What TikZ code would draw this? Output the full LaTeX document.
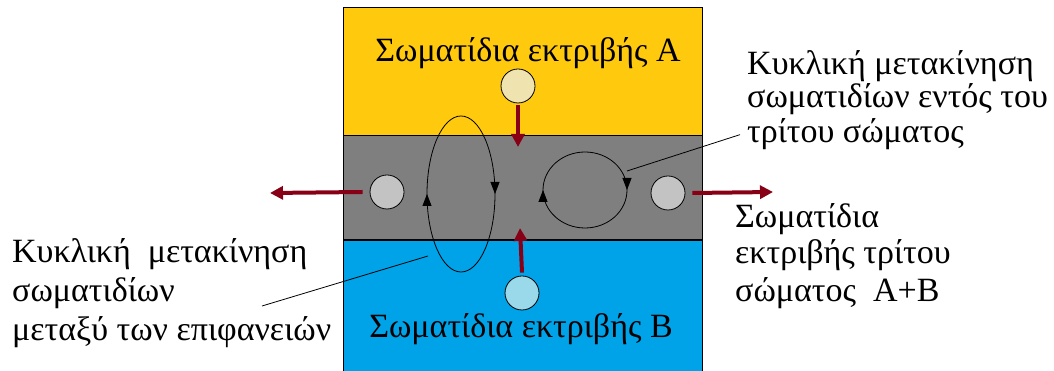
\documentclass[tikz,border=0pt]{standalone}
\usepackage{fontspec}
\setmainfont{Liberation Serif}
\usetikzlibrary{arrows.meta,decorations.markings}
\definecolor{yel}{HTML}{FFC90E}
\definecolor{blu}{HTML}{00A2E8}
\definecolor{gry}{HTML}{7F7F7F}
\definecolor{lgry}{HTML}{C3C3C3}
\definecolor{beige}{HTML}{EFE4B0}
\definecolor{lblu}{HTML}{99D9EA}
\definecolor{dred}{HTML}{880015}
\begin{document}
\begin{tikzpicture}[x=1pt,y=1pt,
  particle/.style={circle,draw=black,line width=0.8pt,minimum size=34pt,inner sep=0pt},
  flow/.style={draw=dred,line width=4pt,-{Triangle[length=13pt,width=13pt]}},
  loopmark/.style={draw=black,line width=0.8pt,postaction={decorate},
    decoration={markings,
      mark=at position 0.25 with {\arrow{Triangle[length=12pt,width=9pt]}},
      mark=at position 0.75 with {\arrow{Triangle[length=12pt,width=9pt]}}}},
  leader/.style={draw=black,line width=0.8pt},
  lbl/.style={font=\fontsize{34}{40}\selectfont,inner sep=0pt,anchor=base west},
  big/.style={font=\fontsize{34}{40}\selectfont,inner sep=0pt,anchor=base}]
\fill[white] (0,0) rectangle (1054,371);
\useasboundingbox (0,0) rectangle (1054,371);
% layers
\fill[yel] (343,235) rectangle (702,363);
\fill[gry] (343,131) rectangle (702,235);
\fill[blu] (343,-5) rectangle (702,131);
\draw[line width=1pt] (343,-5) rectangle (702,363);
\draw[line width=1pt] (343,235) -- (702,235);
\draw[line width=2.5pt] (343,131) -- (702,131);
% titles
\node[big] (tA) at (528,309) {Σωματίδια εκτριβής A};
\node[big] (tB) at (521,33) {Σωματίδια εκτριβής B};
% particles
\node[particle,fill=beige] (cA) at (518,285) {};
\node[particle,fill=lblu] (cB) at (522,78) {};
\node[particle,fill=lgry] (gL) at (387,179) {};
\node[particle,fill=lgry] (gR) at (668,178) {};
% flows
\coordinate (eA) at (518,224);
\coordinate (eB) at (520,143);
\coordinate (eL) at (270,178);
\coordinate (eR) at (773,179);
\draw[flow] ([yshift=-2pt]cA.south) -- (eA);
\draw[flow] ([yshift=3pt]cB.north) -- (eB);
\draw[flow] ([xshift=-7pt]gL.west) -- (eL);
\draw[flow] ([xshift=7pt]gR.east) -- (eR);
% loops
\draw[loopmark] (461,255) arc[start angle=90,end angle=-270,x radius=34,y radius=78];
\draw[loopmark] (585,219) arc[start angle=90,end angle=-270,x radius=42,y radius=38];
% right labels
\node[lbl] (r1) at (747,296) {Κυκλική μετακίνηση};
\node[lbl] (r2) at (747,263) {σωματιδίων εντός του};
\node[lbl] (r3) at (747,228) {τρίτου σώματος};
\node[lbl] (s1) at (735,143) {Σωματίδια};
\node[lbl] (s2) at (735,107) {εκτριβής τρίτου};
\node[lbl] (s3) at (735,69) {σώματος\ \ A+B};
% left labels
\node[lbl] (l1) at (12,108) {Κυκλική\ \ μετακίνηση};
\node[lbl] (l2) at (12,69) {σωματιδίων};
\node[lbl] (l3) at (12,30) {μεταξύ των επιφανειών};
% leaders
\coordinate (pR) at (627,200);
\coordinate (pL) at (428,115);
\coordinate (qL) at (262,65);
\draw[leader] (pR) -- ([xshift=-7pt]r3.west);
\draw[leader] (pL) -- (qL);
\end{tikzpicture}
\end{document}
